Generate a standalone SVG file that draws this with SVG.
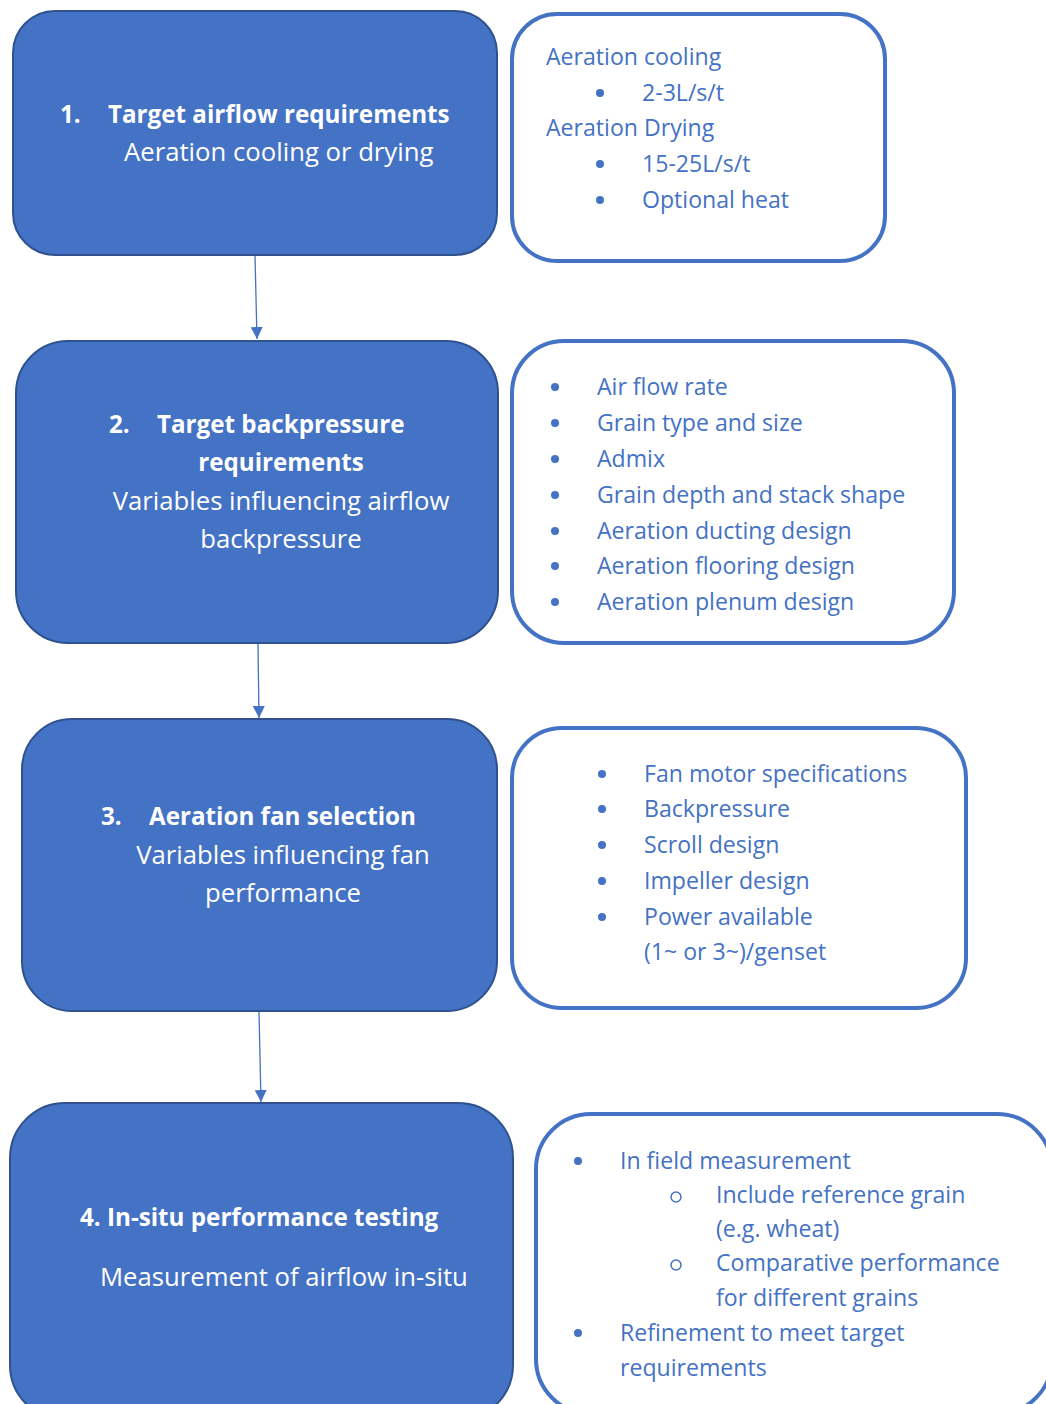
<svg xmlns="http://www.w3.org/2000/svg" width="1046" height="1404" viewBox="0 0 1046 1404">
<style>
.main{fill:#4472C4;stroke:#2F528F;stroke-width:2}
.side{fill:#fff;stroke:#4472C4;stroke-width:4}
.wb{font-family:"Open Sans",sans-serif;font-weight:bold;font-size:24.2px;fill:#fff}
.wr{font-family:"Open Sans",sans-serif;font-size:25.7px;fill:#fff}
.bt{font-family:"Open Sans",sans-serif;font-size:23.1px;fill:#4472C4}
.dot{fill:#4472C4}
.ring{fill:none;stroke:#4472C4;stroke-width:1.5}
.conn{fill:none;stroke:#4472C4;stroke-width:1.3}
</style>
<defs>
<marker id="ah" viewBox="0 0 10 10" refX="10" refY="5" markerWidth="12" markerHeight="12" markerUnits="userSpaceOnUse" orient="auto">
<path d="M0,0 L10,5 L0,10 z" fill="#4472C4"/>
</marker>
</defs>
<g id="connectors">
<path class="conn" d="M255,256 L257,339" marker-end="url(#ah)"/>
<path class="conn" d="M258,644 L259,718" marker-end="url(#ah)"/>
<path class="conn" d="M259,1012 L261,1102" marker-end="url(#ah)"/>
</g>
<g id="n1">
<rect class="main" x="13" y="11" width="484" height="244" rx="42"/>
<text class="wb" x="60" y="123">1.</text>
<text class="wb" x="108" y="123">Target airflow requirements</text>
<text class="wr" x="124" y="161">Aeration cooling or drying</text>
</g>
<g id="s1">
<rect class="side" x="512" y="14" width="373" height="247" rx="45"/>
<text class="bt" x="546" y="65">Aeration cooling</text>
<circle class="dot" cx="600" cy="93" r="4"/>
<text class="bt" x="642" y="101">2-3L/s/t</text>
<text class="bt" x="546" y="136">Aeration Drying</text>
<circle class="dot" cx="600" cy="164" r="4"/>
<text class="bt" x="642" y="172">15-25L/s/t</text>
<circle class="dot" cx="600" cy="200" r="4"/>
<text class="bt" x="642" y="208">Optional heat</text>
</g>
<g id="n2">
<rect class="main" x="16" y="341" width="482" height="302" rx="52"/>
<text class="wb" x="109" y="433">2.</text>
<text class="wb" x="157" y="433">Target backpressure</text>
<text class="wb" x="281" y="471" text-anchor="middle">requirements</text>
<text class="wr" x="281" y="510" text-anchor="middle">Variables influencing airflow</text>
<text class="wr" x="281" y="548" text-anchor="middle">backpressure</text>
</g>
<g id="s2">
<rect class="side" x="512" y="341" width="442" height="302" rx="52"/>
<circle class="dot" cx="555" cy="387" r="4"/>
<text class="bt" x="597" y="395">Air flow rate</text>
<circle class="dot" cx="555" cy="423" r="4"/>
<text class="bt" x="597" y="431">Grain type and size</text>
<circle class="dot" cx="555" cy="459" r="4"/>
<text class="bt" x="597" y="467">Admix</text>
<circle class="dot" cx="555" cy="495" r="4"/>
<text class="bt" x="597" y="503">Grain depth and stack shape</text>
<circle class="dot" cx="555" cy="531" r="4"/>
<text class="bt" x="597" y="539">Aeration ducting design</text>
<circle class="dot" cx="555" cy="566" r="4"/>
<text class="bt" x="597" y="574">Aeration flooring design</text>
<circle class="dot" cx="555" cy="602" r="4"/>
<text class="bt" x="597" y="610">Aeration plenum design</text>
</g>
<g id="n3">
<rect class="main" x="22" y="719" width="475" height="292" rx="50"/>
<text class="wb" x="101" y="825">3.</text>
<text class="wb" x="149" y="825">Aeration fan selection</text>
<text class="wr" x="283" y="864" text-anchor="middle">Variables influencing fan</text>
<text class="wr" x="283" y="902" text-anchor="middle">performance</text>
</g>
<g id="s3">
<rect class="side" x="512" y="728" width="454" height="280" rx="50"/>
<circle class="dot" cx="602" cy="774" r="4"/>
<text class="bt" x="644" y="782">Fan motor specifications</text>
<circle class="dot" cx="602" cy="809" r="4"/>
<text class="bt" x="644" y="817">Backpressure</text>
<circle class="dot" cx="602" cy="845" r="4"/>
<text class="bt" x="644" y="853">Scroll design</text>
<circle class="dot" cx="602" cy="881" r="4"/>
<text class="bt" x="644" y="889">Impeller design</text>
<circle class="dot" cx="602" cy="917" r="4"/>
<text class="bt" x="644" y="925">Power available</text>
<text class="bt" x="644" y="960">(1~ or 3~)/genset</text>
</g>
<g id="n4">
<rect class="main" x="10" y="1103" width="503" height="317" rx="55"/>
<text class="wb" x="80" y="1226">4. In-situ performance testing</text>
<text class="wr" x="100" y="1286">Measurement of airflow in-situ</text>
</g>
<g id="s4">
<rect class="side" x="536" y="1114" width="516" height="300" rx="55"/>
<circle class="dot" cx="578" cy="1161" r="4"/>
<text class="bt" x="620" y="1169">In field measurement</text>
<circle class="ring" cx="676" cy="1197" r="5"/>
<text class="bt" x="716" y="1203">Include reference grain</text>
<text class="bt" x="716" y="1237">(e.g. wheat)</text>
<circle class="ring" cx="676" cy="1265" r="5"/>
<text class="bt" x="716" y="1271">Comparative performance</text>
<text class="bt" x="716" y="1306">for different grains</text>
<circle class="dot" cx="578" cy="1333" r="4"/>
<text class="bt" x="620" y="1341">Refinement to meet target</text>
<text class="bt" x="620" y="1376">requirements</text>
</g>
</svg>
